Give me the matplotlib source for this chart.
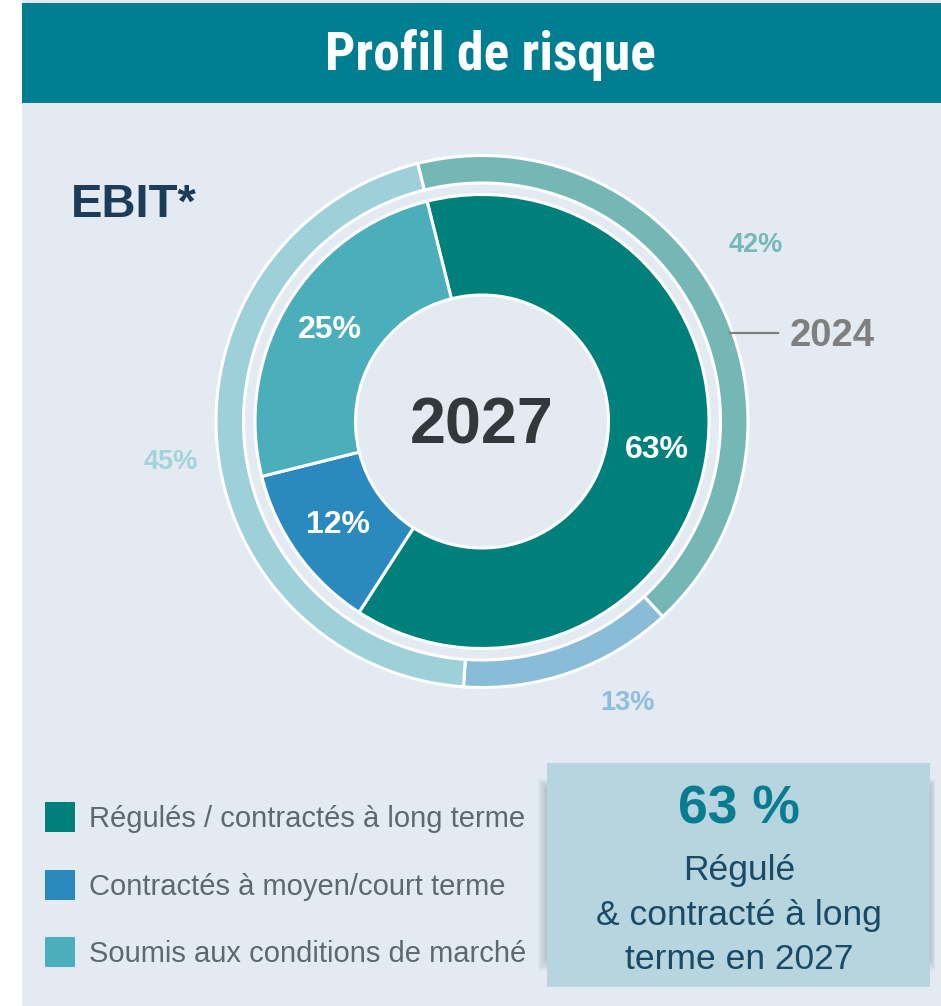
import matplotlib
matplotlib.use("Agg")
import matplotlib.pyplot as plt
from matplotlib.patches import Rectangle
from matplotlib import font_manager
import numpy as np

# ---------------- data ----------------
categories = ["Régulés / contractés à long terme",
              "Contractés à moyen/court terme",
              "Soumis aux conditions de marché"]
values_2027 = [63, 12, 25]
values_2024 = [42, 13, 45]
labels_2027 = ["63%", "12%", "25%"]
labels_2024 = ["42%", "13%", "45%"]
title = "Profil de risque"
subtitle = "EBIT*"
inner_year = "2027"
outer_year = "2024"
box_big = "63 %"
box_lines = ["Régulé", "& contracté à long", "terme en 2027"]

inner_colors = ["#00807a", "#2a89bd", "#4aafba"]
outer_colors = ["#75b7b5", "#88bcd9", "#9dd0d9"]
outer_label_colors = ["#76b8b6", "#8dbfdc", "#a2d3db"]

# ---------------- fonts ----------------
def available(name):
    try:
        font_manager.findfont(font_manager.FontProperties(family=name),
                              fallback_to_default=False)
        return True
    except Exception:
        return False

SANS = "Liberation Sans" if available("Liberation Sans") else "DejaVu Sans"
NARROW = SANS
for cand in ["Liberation Sans Narrow", "Roboto Condensed", "Open Sans Condensed"]:
    if available(cand):
        NARROW = cand
        break
plt.rcParams["font.family"] = [SANS, "DejaVu Sans"]

W, H = 941, 1006
BG = "#e3eaf1"

fig = plt.figure(figsize=(W / 100, H / 100), dpi=100, facecolor="white")
ax = fig.add_axes([0, 0, 1, 1])

def Y(y):
    return H - y

# panel background and header
ax.add_patch(Rectangle((22, 0), W - 22, H, facecolor=BG, edgecolor="none", zorder=0))
ax.add_patch(Rectangle((22, Y(103)), W - 22, 100, facecolor="#007e91",
                       edgecolor="none", zorder=1))
ax.text(490, Y(55), title, ha="center", va="center", color="white",
        fontsize=38.5, fontweight="bold", family=[NARROW, "DejaVu Sans"], zorder=2)

ax.text(71, Y(217), subtitle, ha="left", va="baseline", color="#1c3d5a",
        fontsize=34, fontweight="bold", zorder=2)

# ---------------- donuts ----------------
cx, cy = 482, Y(421.5)
lw = 2.2
outer_w, _ = ax.pie(values_2024, radius=266, center=(cx, cy), startangle=104,
                    counterclock=False, colors=outer_colors,
                    wedgeprops=dict(width=27.5, edgecolor="white", linewidth=lw))
inner_w, _ = ax.pie(values_2027, radius=227, center=(cx, cy), startangle=104,
                    counterclock=False, colors=inner_colors,
                    wedgeprops=dict(width=100.5, edgecolor="white", linewidth=lw))

for w, lab in zip(inner_w, labels_2027):
    ang = np.deg2rad((w.theta1 + w.theta2) / 2)
    r = 177
    ax.text(cx + r * np.cos(ang), cy + r * np.sin(ang), lab, ha="center",
            va="center", color="white", fontsize=23, fontweight="bold", zorder=5)

outer_pos = [(756, 245), (627, 703), (171, 462)]
for (x, y), lab, c in zip(outer_pos, labels_2024, outer_label_colors):
    ax.text(x, Y(y), lab, ha="center", va="center", color=c, fontsize=19.5,
            fontweight="bold", zorder=5)

ax.text(cx, Y(443), inner_year, ha="center", va="baseline", color="#33383c",
        fontsize=46.5, fontweight="bold", zorder=5)

ax.plot([730, 778], [Y(333), Y(333)], color="#7f7f7f", lw=1.6, zorder=5)
ax.text(790, Y(346), outer_year, ha="left", va="baseline", color="#7f7f7f",
        fontsize=27.5, fontweight="bold", zorder=5)

# ---------------- legend ----------------
sq_top = [802, 870, 937]
baselines = [827, 895, 962]
for top, base, c, lab in zip(sq_top, baselines, inner_colors, categories):
    ax.add_patch(Rectangle((45, Y(top + 30)), 30, 30, facecolor=c,
                           edgecolor="none", zorder=3))
    ax.text(89, Y(base), lab, ha="left", va="baseline", color="#5f6770",
            fontsize=21, zorder=3)

# ---------------- callout box ----------------
bx0, bx1, by0, by1 = 547, 930, 763, 987
for i in range(1, 10):
    ax.add_patch(Rectangle((bx0 - i, Y(by1 - 30 + i * 1.5)),
                           (bx1 - bx0) + i * 1.6,
                           (by1 - by0) - 55 + i * 2.5,
                           facecolor="#6a7a84", alpha=0.045, edgecolor="none",
                           zorder=2))
ax.add_patch(Rectangle((bx0, Y(by1)), bx1 - bx0, by1 - by0, facecolor="#b6d5df",
                       edgecolor="none", zorder=3))
bcx = (bx0 + bx1) / 2 + 0.5
ax.text(bcx, Y(823), box_big, ha="center", va="baseline", color="#0a7c92",
        fontsize=38.5, fontweight="bold", zorder=4)
for base, line in zip([880, 925, 969], box_lines):
    ax.text(bcx, Y(base), line, ha="center", va="baseline", color="#1a4a66",
            fontsize=25.5, zorder=4)

ax.set_xlim(0, W)
ax.set_ylim(0, H)
ax.set_aspect("auto")
ax.axis("off")

fig.savefig("out.png", dpi=100, facecolor="white")
